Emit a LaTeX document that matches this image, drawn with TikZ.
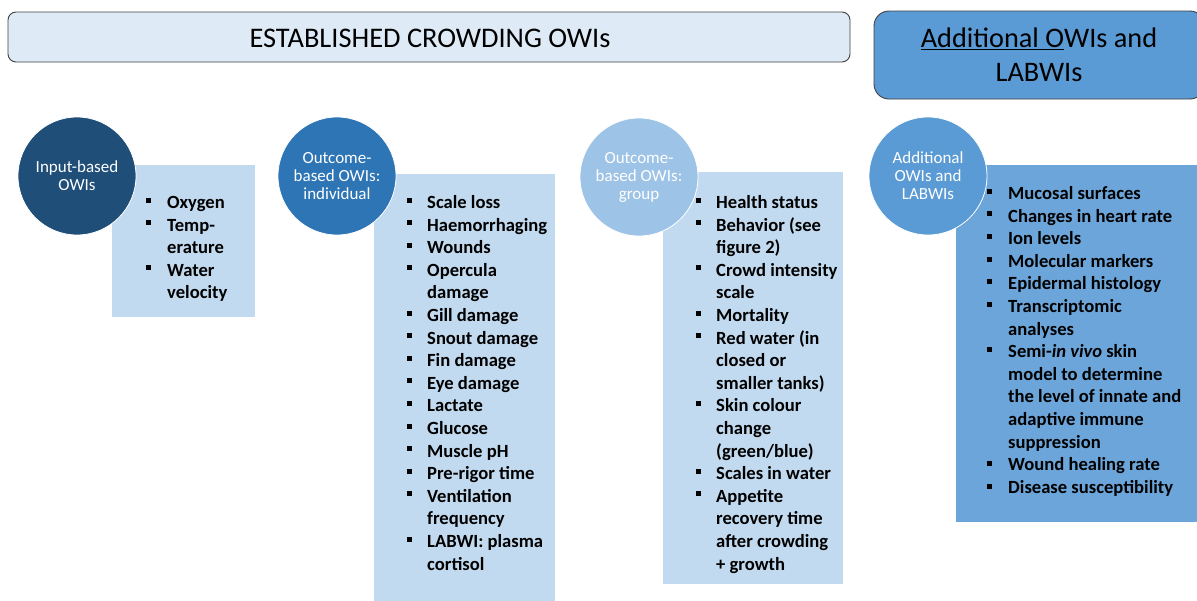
\documentclass[tikz,border=0pt]{standalone}
\usepackage{fontspec}
\setmainfont{Carlito}
\definecolor{navy}{HTML}{1F4E79}
\definecolor{midblue}{HTML}{2E75B6}
\definecolor{paleblue}{HTML}{9DC3E6}
\definecolor{accblue}{HTML}{5B9BD5}
\definecolor{boxlight}{HTML}{C2DAEF}
\definecolor{boxmid}{HTML}{6CA5D9}
\definecolor{bannerlight}{HTML}{DEEBF7}
\definecolor{bordergray}{HTML}{404040}
\tikzset{
  banner/.style={draw=bordergray, line width=0.9pt},
  owicircle/.style={circle, minimum size=118pt, inner sep=0pt, draw=white, line width=0.8pt, text=white, align=center, font=\fontsize{17}{18}\selectfont},
  listbox/.style={draw=white, line width=0.6pt},
  itemline/.style={anchor=base west, inner sep=0pt, font=\fontsize{18.6}{22}\selectfont\bfseries},
  bul/.style={fill=black, minimum size=5pt, inner sep=0pt}
}
\newcommand{\listitems}[4]{% x-bullet, x-text, y-first baseline, list
  \foreach \t [count=\i from 0] in {#4} {
    \pgfmathsetmacro{\yy}{#3+22.6*\i}
    \node[itemline] at (#2,\yy) {\t};
  }
}
\begin{document}
\begin{tikzpicture}[x=1pt,y=-1pt]
\useasboundingbox (0,0) rectangle (1197,600);
\clip (0,0) rectangle (1197,600);
% banners
\draw[banner, fill=bannerlight, rounded corners=8pt] (8,12) rectangle (850,62);
\node[font=\fontsize{28.4}{32}\selectfont] (bantitle) at (430,38) {ESTABLISHED CROWDING OWIs};
\draw[banner, fill=accblue, rounded corners=15pt] (874,11) rectangle (1205,99);
\node[align=center, font=\fontsize{28.3}{34}\selectfont] (addtitle) at (1039,55) {\underline{Additional O}WIs and\\LABWIs};

% boxes
\fill[boxlight] (112,165) rectangle (255,317);
\fill[boxlight] (374,174) rectangle (555,605);
\fill[boxlight] (663,172) rectangle (843,584);
\fill[boxmid] (956,165) rectangle (1205,522);

% circles
\node[owicircle, fill=navy] (c1) at (77,176) {Input-based\\OWIs};
\node[owicircle, fill=midblue] (c2) at (337,176) {Outcome-\\based OWIs:\\individual};
\node[owicircle, fill=paleblue] (c3) at (639,177) {Outcome-\\based OWIs:\\group};
\node[owicircle, fill=accblue] (c4) at (928,176) {Additional\\OWIs and\\LABWIs};

% box 1
\foreach \k in {0,1,3} \node[bul] at (148,{204-4+22.6*\k}) {};
\listitems{148}{167}{208.5}{Oxygen,Temp-,erature,Water,velocity}
% box 2
\foreach \k in {0,1,2,3,5,6,7,8,9,10,11,12,13,15} \node[bul] at (409,{204-4+22.6*\k}) {};
\listitems{409}{427}{208.5}{Scale loss,Haemorrhaging,Wounds,Opercula,damage,Gill damage,Snout damage,Fin damage,Eye damage,Lactate,Glucose,Muscle pH,Pre-rigor time,Ventilation,frequency,LABWI: plasma,cortisol}
% box 3
\foreach \k in {0,1,3,5,6,9,12,13} \node[bul] at (698,{204-4+22.6*\k}) {};
\listitems{698}{716}{208.5}{Health status,Behavior (see,figure 2),Crowd intensity,scale,Mortality,Red water (in,closed or,smaller tanks),Skin colour,change,(green/blue),Scales in water,Appetite,recovery time,after crowding,+ growth}
% box 4
\foreach \k in {0,1,2,3,4,5,7,12,13} \node[bul] at (989,{195-4+22.7*\k}) {};
\listitems{989}{1008}{199.5}{Mucosal surfaces,Changes in heart rate,Ion levels,Molecular markers,Epidermal histology,Transcriptomic,analyses,Semi-\textit{in vivo} skin,model to determine,the level of innate and,adaptive immune,suppression,Wound healing rate,Disease susceptibility}
\end{tikzpicture}
\end{document}
